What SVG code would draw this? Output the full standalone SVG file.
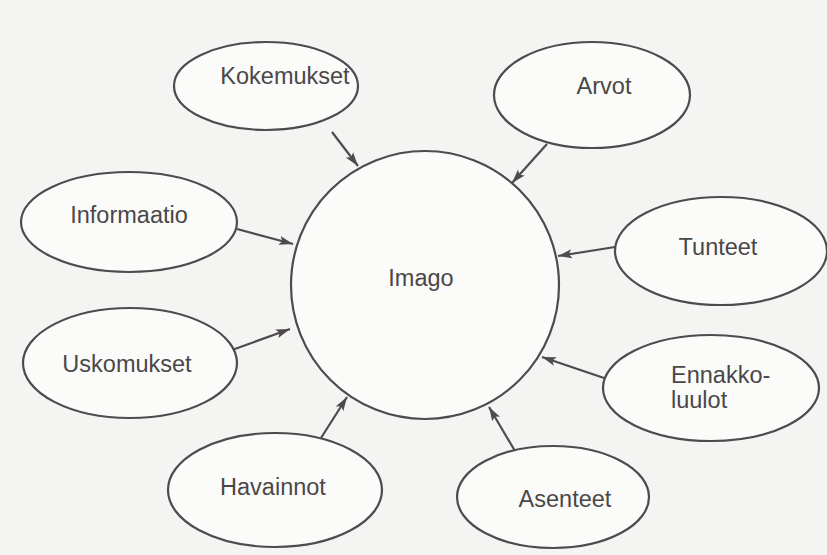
<svg xmlns="http://www.w3.org/2000/svg" width="827" height="555" viewBox="0 0 827 555">
<defs>
<style>
.n{fill:#fbfbfa;stroke:#4f4a4d;stroke-width:2.2}
.t{font-family:"Liberation Sans",Arial,sans-serif;font-size:23.5px;fill:#4a4749}
.c{stroke:#4f4a4d;stroke-width:2.2;fill:none;marker-end:url(#ah)}
</style>
<marker id="ah" markerUnits="userSpaceOnUse" markerWidth="14" markerHeight="10" viewBox="0 0 14 10" refX="14" refY="5" orient="auto">
<path d="M0,0.5 L14,5 L0,9.5 L3,5 Z" fill="#4f4a4d"/>
</marker>
</defs>
<rect width="827" height="555" fill="#f4f4f2"/>
<g id="connectors">
<line class="c" x1="332" y1="132" x2="358" y2="166"/>
<line class="c" x1="547" y1="144" x2="512" y2="183"/>
<line class="c" x1="237" y1="229" x2="293" y2="244"/>
<line class="c" x1="232" y1="350" x2="290" y2="329"/>
<line class="c" x1="615" y1="247" x2="558" y2="256"/>
<line class="c" x1="604" y1="378" x2="542" y2="357"/>
<line class="c" x1="321" y1="438" x2="347" y2="397"/>
<line class="c" x1="515" y1="451" x2="489" y2="407"/>
</g>
<g id="imago">
<circle class="n" cx="425" cy="285" r="134"/>
<text class="t" x="421" y="286" text-anchor="middle">Imago</text>
</g>
<g id="kokemukset">
<ellipse class="n" cx="266" cy="86" rx="92" ry="44"/>
<text class="t" x="285" y="84" text-anchor="middle">Kokemukset</text>
</g>
<g id="arvot">
<ellipse class="n" cx="592" cy="95" rx="98" ry="53"/>
<text class="t" x="604" y="94" text-anchor="middle">Arvot</text>
</g>
<g id="informaatio">
<ellipse class="n" cx="129" cy="222" rx="108" ry="50"/>
<text class="t" x="129" y="223" text-anchor="middle">Informaatio</text>
</g>
<g id="tunteet">
<ellipse class="n" cx="721" cy="251" rx="106" ry="54"/>
<text class="t" x="718" y="255" text-anchor="middle">Tunteet</text>
</g>
<g id="uskomukset">
<ellipse class="n" cx="130" cy="363" rx="107" ry="55"/>
<text class="t" x="127" y="372" text-anchor="middle">Uskomukset</text>
</g>
<g id="ennakkoluulot">
<ellipse class="n" cx="711" cy="388" rx="108" ry="53"/>
<text class="t" x="671" y="383">Ennakko-</text>
<text class="t" x="671" y="408">luulot</text>
</g>
<g id="havainnot">
<ellipse class="n" cx="275" cy="490" rx="107" ry="57"/>
<text class="t" x="273" y="495" text-anchor="middle">Havainnot</text>
</g>
<g id="asenteet">
<ellipse class="n" cx="553" cy="497" rx="96" ry="51"/>
<text class="t" x="565" y="507" text-anchor="middle">Asenteet</text>
</g>
</svg>
